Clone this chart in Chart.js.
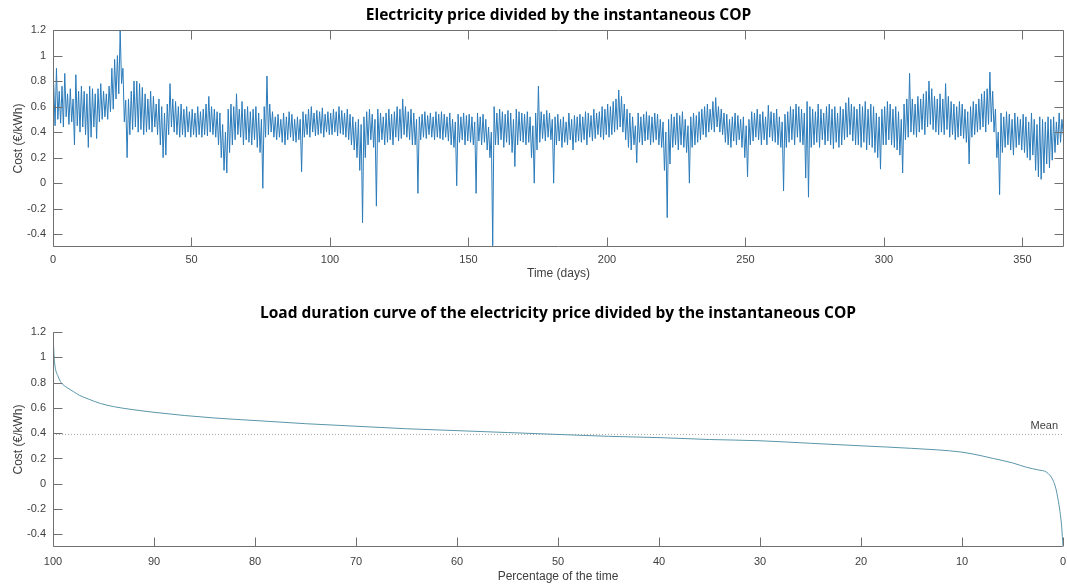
<!DOCTYPE html>
<html>
<head>
<meta charset="utf-8">
<script src="https://cdn.jsdelivr.net/npm/chart.js@4/dist/chart.umd.min.js"></script>
<style>
  html, body { margin: 0; padding: 0; background: #fff; }
  #wrap { position: relative; width: 1067px; height: 585px; }
  #priceBox { position: absolute; left: 0; top: 0; width: 1067px; height: 290px; }
  #durationBox { position: absolute; left: 0; top: 290px; width: 1067px; height: 295px; }
</style>
</head>
<body>
<div id="wrap">
  <div id="priceBox"><canvas id="priceChart" width="1067" height="290"></canvas></div>
  <div id="durationBox"><canvas id="durationChart" width="1067" height="295"></canvas></div>
</div>
<script>
// Daily upper and lower values of the electricity price divided by the COP (€/kWh), days 0–364
const dailyHigh = [
  0.78,0.90,0.72,0.76,0.86,0.70,0.74,0.66,0.85,0.72,
  0.76,0.72,0.70,0.76,0.74,0.70,0.74,0.78,0.72,0.70,
  0.76,0.90,0.97,1.00,1.20,0.90,0.65,0.66,0.72,0.80,
  0.80,0.78,0.75,0.70,0.66,0.72,0.68,0.62,0.66,0.60,
  0.55,0.62,0.78,0.66,0.64,0.60,0.62,0.58,0.60,0.56,
  0.58,0.55,0.60,0.56,0.58,0.62,0.68,0.60,0.58,0.56,
  0.55,0.46,0.40,0.58,0.62,0.60,0.70,0.58,0.64,0.58,
  0.60,0.56,0.58,0.60,0.55,0.50,0.60,0.84,0.62,0.56,
  0.52,0.54,0.50,0.55,0.52,0.56,0.54,0.50,0.52,0.50,
  0.56,0.54,0.58,0.60,0.55,0.57,0.56,0.59,0.54,0.56,
  0.55,0.58,0.56,0.60,0.57,0.55,0.58,0.54,0.52,0.48,
  0.50,0.46,0.52,0.56,0.58,0.54,0.50,0.58,0.55,0.52,
  0.55,0.58,0.54,0.56,0.60,0.58,0.66,0.60,0.56,0.58,
  0.55,0.50,0.52,0.54,0.56,0.53,0.55,0.52,0.56,0.54,
  0.56,0.54,0.52,0.55,0.50,0.48,0.54,0.52,0.55,0.53,
  0.54,0.52,0.48,0.55,0.52,0.54,0.50,0.44,0.40,0.60,
  0.55,0.58,0.56,0.54,0.57,0.55,0.50,0.58,0.56,0.55,
  0.54,0.56,0.52,0.45,0.55,0.76,0.56,0.54,0.57,0.55,
  0.50,0.52,0.54,0.50,0.52,0.48,0.55,0.50,0.53,0.52,
  0.54,0.52,0.56,0.55,0.53,0.58,0.55,0.56,0.60,0.58,
  0.62,0.60,0.64,0.66,0.73,0.68,0.62,0.58,0.55,0.52,
  0.45,0.55,0.52,0.54,0.56,0.53,0.52,0.55,0.54,0.50,
  0.48,0.40,0.50,0.54,0.52,0.55,0.53,0.56,0.50,0.45,
  0.52,0.55,0.53,0.56,0.58,0.60,0.62,0.58,0.64,0.67,
  0.60,0.58,0.55,0.54,0.50,0.52,0.55,0.53,0.50,0.52,
  0.45,0.50,0.56,0.55,0.58,0.54,0.56,0.52,0.61,0.56,
  0.55,0.58,0.52,0.48,0.54,0.56,0.60,0.58,0.62,0.60,
  0.58,0.55,0.64,0.60,0.58,0.56,0.62,0.58,0.55,0.60,
  0.62,0.58,0.60,0.55,0.60,0.58,0.63,0.67,0.62,0.60,
  0.58,0.62,0.60,0.64,0.58,0.62,0.60,0.55,0.52,0.58,
  0.60,0.64,0.62,0.58,0.60,0.56,0.50,0.62,0.66,0.86,
  0.66,0.62,0.68,0.66,0.70,0.72,0.80,0.74,0.68,0.66,
  0.70,0.66,0.78,0.68,0.64,0.62,0.60,0.64,0.62,0.58,
  0.56,0.60,0.64,0.62,0.66,0.70,0.72,0.74,0.87,0.72,
  0.58,0.40,0.55,0.52,0.56,0.54,0.50,0.55,0.52,0.50,
  0.54,0.52,0.48,0.55,0.50,0.46,0.52,0.50,0.48,0.52,
  0.50,0.52,0.48,0.55,0.50
];
const dailyLow = [
  0.45,0.50,0.47,0.44,0.52,0.46,0.48,0.30,0.45,0.40,
  0.44,0.38,0.28,0.36,0.44,0.35,0.48,0.50,0.52,0.50,
  0.56,0.58,0.66,0.70,0.78,0.48,0.20,0.38,0.42,0.44,
  0.40,0.42,0.38,0.40,0.42,0.40,0.44,0.38,0.30,0.20,
  0.22,0.38,0.44,0.40,0.38,0.36,0.38,0.36,0.40,0.36,
  0.38,0.36,0.38,0.36,0.38,0.37,0.40,0.38,0.36,0.30,
  0.20,0.10,0.08,0.24,0.30,0.34,0.38,0.36,0.30,0.34,
  0.32,0.30,0.34,0.28,0.24,-0.04,0.36,0.38,0.40,0.36,
  0.34,0.36,0.32,0.30,0.34,0.36,0.33,0.32,0.34,0.09,
  0.36,0.38,0.36,0.40,0.37,0.38,0.39,0.36,0.40,0.38,
  0.38,0.40,0.37,0.39,0.38,0.36,0.34,0.30,0.26,0.20,
  0.10,-0.31,0.20,0.30,0.34,0.28,-0.18,0.32,0.34,0.30,
  0.32,0.34,0.30,0.36,0.33,0.35,0.38,0.36,0.34,0.30,
  0.30,-0.08,0.34,0.36,0.35,0.38,0.36,0.34,0.36,0.35,
  0.34,0.36,0.33,0.30,0.28,-0.02,0.32,0.34,0.30,0.33,
  0.32,0.30,-0.08,0.33,0.30,0.32,0.26,0.20,-0.49,0.30,
  0.30,0.34,0.28,0.32,0.30,0.24,0.13,0.30,0.33,0.32,
  0.30,0.32,0.20,0.00,0.26,0.32,0.35,0.33,0.36,0.34,
  0.00,0.30,0.33,0.28,0.32,0.30,0.34,0.26,0.32,0.33,
  0.32,0.34,0.30,0.36,0.33,0.35,0.38,0.36,0.34,0.38,
  0.36,0.38,0.40,0.42,0.44,0.40,0.34,0.28,0.26,0.30,
  0.16,0.32,0.30,0.33,0.34,0.30,0.32,0.34,0.30,0.28,
  0.10,-0.27,0.15,0.28,0.30,0.26,0.30,0.28,0.24,0.00,
  0.28,0.30,0.32,0.34,0.38,0.36,0.40,0.42,0.40,0.44,
  0.40,0.38,0.32,0.30,0.28,0.33,0.30,0.34,0.28,0.20,
  0.05,0.30,0.33,0.36,0.34,0.30,0.34,0.30,0.36,0.33,
  0.32,0.30,0.28,-0.06,0.28,0.32,0.34,0.30,0.36,0.32,
  0.30,0.04,-0.11,0.28,0.30,0.32,0.28,0.34,0.30,0.33,
  0.30,0.27,0.32,0.28,0.30,0.34,0.36,0.38,0.33,0.30,
  0.30,0.28,0.32,0.26,0.30,0.28,0.24,0.20,0.11,0.30,
  0.30,0.34,0.30,0.28,0.26,0.22,0.08,0.34,0.36,0.40,
  0.38,0.36,0.40,0.42,0.38,0.44,0.46,0.42,0.40,0.38,
  0.40,0.38,0.42,0.36,0.38,0.34,0.36,0.37,0.35,0.32,
  0.15,0.36,0.38,0.40,0.42,0.44,0.40,0.46,0.48,0.40,
  0.20,-0.09,0.24,0.28,0.30,0.26,0.22,0.28,0.30,0.26,
  0.24,0.20,0.18,0.22,0.10,0.05,0.03,0.08,0.15,0.12,
  0.18,0.24,0.30,0.32,0.38
];

// Load duration curve: share of the time (%) for which the cost is exceeded
const durationPct  = [100, 99.9, 99.8, 99.5, 99.2, 98.6, 98, 97.4, 96.5, 95.3, 94, 92, 90, 87, 84, 80, 75, 70, 65, 60, 55, 50, 45, 40, 35, 30, 25, 20, 15, 10, 8, 6.9, 5, 3.6, 2.5, 1.6, 1.0, 0.7, 0.5, 0.3, 0.13, 0];
const durationCost = [1.2, 1.02, 0.93, 0.85, 0.80, 0.76, 0.73, 0.70, 0.67, 0.635, 0.61, 0.585, 0.565, 0.54, 0.52, 0.50, 0.475, 0.455, 0.435, 0.42, 0.405, 0.39, 0.375, 0.365, 0.35, 0.34, 0.32, 0.30, 0.28, 0.25, 0.22, 0.20, 0.165, 0.13, 0.11, 0.09, 0.03, -0.04, -0.12, -0.22, -0.34, -0.5];
const meanCost = 0.39;

// Tick labels
const dayTicks  = [0, 50, 100, 150, 200, 250, 300, 350];
const pctTicks  = [100, 90, 80, 70, 60, 50, 40, 30, 20, 10, 0];
const costTicks = [-0.4, -0.2, 0, 0.2, 0.4, 0.6, 0.8, 1, 1.2];

const TICK_FONT = { family: 'Liberation Sans, Arial, sans-serif', size: 11 };
const LABEL_FONT = { family: 'Liberation Sans, Arial, sans-serif', size: 12 };
const TITLE_FONT = { family: 'Open Sans, sans-serif', size: 15.5, weight: 'bold' };
const TEXT_GREY = '#404040';
const AXIS_GREY = '#707070';

// One line through the day's upper and lower values, half a day apart
const pricePoints = [];
dailyHigh.forEach((h, d) => {
  pricePoints.push({ x: d + 0.25, y: h });
  pricePoints.push({ x: d + 0.75, y: dailyLow[d] });
});

const fmtCost = v => String(Math.round(v * 10) / 10);
const fixedTicks = list => axis => { axis.ticks = list.map(v => ({ value: v })); };

// Axis lines with inward tick marks; optional closed box with top/right ticks
const axisFrame = {
  id: 'axisFrame',
  afterDraw(chart, args, opts) {
    const { ctx, chartArea: a, scales: { x, y } } = chart;
    const len = opts.tickLength;
    const L = Math.round(a.left) + 0.5, R = Math.round(a.right) - 0.5;
    const T = Math.round(a.top) + 0.5, B = Math.round(a.bottom) - 0.5;
    ctx.save();
    ctx.strokeStyle = opts.color;
    ctx.lineWidth = 1;
    ctx.beginPath();
    ctx.moveTo(L, T); ctx.lineTo(L, B); ctx.lineTo(R, B);
    if (opts.box) { ctx.moveTo(L, T); ctx.lineTo(R, T); ctx.lineTo(R, B); }
    x.ticks.forEach(t => {
      const px = Math.round(x.getPixelForValue(t.value)) + 0.5;
      ctx.moveTo(px, B); ctx.lineTo(px, B - len);
      if (opts.box) { ctx.moveTo(px, T); ctx.lineTo(px, T + len); }
    });
    y.ticks.forEach(t => {
      const py = Math.round(y.getPixelForValue(t.value)) + 0.5;
      ctx.moveTo(L, py); ctx.lineTo(L + len, py);
      if (opts.box) { ctx.moveTo(R, py); ctx.lineTo(R - len, py); }
    });
    ctx.stroke();
    ctx.restore();
  }
};

// Text tag sitting above the mean line at the right end
const meanTag = {
  id: 'meanTag',
  afterDatasetsDraw(chart, args, opts) {
    const { ctx, chartArea: a, scales: { y } } = chart;
    ctx.save();
    ctx.font = '11px Liberation Sans, Arial, sans-serif';
    ctx.fillStyle = TEXT_GREY;
    ctx.textAlign = 'right';
    ctx.textBaseline = 'bottom';
    ctx.fillText(opts.text, a.right - 5, y.getPixelForValue(opts.value) - 3);
    ctx.restore();
  }
};

Chart.defaults.animation = false;
Chart.defaults.color = TEXT_GREY;

// Axes keep fixed sizes so both plot areas line up
const noEdgePadding = s => { s.paddingLeft = 0; s.paddingRight = 0; };

const costAxis = (width) => ({
  type: 'linear',
  min: -0.5,
  max: 1.2,
  afterBuildTicks: fixedTicks(costTicks),
  afterFit: s => { s.width = width; },
  grid: { display: false, drawTicks: false },
  border: { display: false },
  ticks: { font: TICK_FONT, color: TEXT_GREY, padding: 7, callback: fmtCost },
  title: { display: true, text: 'Cost (€/kWh)', font: LABEL_FONT, color: TEXT_GREY, padding: { top: 11, bottom: 0 } }
});

new Chart(document.getElementById('priceChart'), {
  type: 'line',
  data: {
    datasets: [{
      data: pricePoints,
      borderColor: '#2b7bba',
      borderWidth: 1,
      pointRadius: 0,
      tension: 0
    }]
  },
  options: {
    responsive: false,
    events: [],
    layout: { padding: { left: 0, right: 3, top: 0, bottom: 0 } },
    plugins: {
      legend: { display: false },
      tooltip: { enabled: false },
      title: {
        display: true,
        fullSize: false,
        text: 'Electricity price divided by the instantaneous COP',
        font: TITLE_FONT,
        color: '#000',
        padding: { top: 6.7, bottom: 4.7 }
      },
      axisFrame: { box: true, tickLength: 9, color: AXIS_GREY }
    },
    scales: {
      x: {
        type: 'linear',
        min: 0,
        max: 365,
        afterBuildTicks: fixedTicks(dayTicks),
        afterFit: s => { s.height = 43; noEdgePadding(s); },
        grid: { display: false, drawTicks: false },
        border: { display: false },
        ticks: { font: TICK_FONT, color: TEXT_GREY, padding: 6, maxRotation: 0, autoSkip: false },
        title: { display: true, text: 'Time (days)', font: LABEL_FONT, color: TEXT_GREY, padding: { top: 0, bottom: 9 } }
      },
      y: costAxis(53)
    }
  },
  plugins: [axisFrame]
});

new Chart(document.getElementById('durationChart'), {
  type: 'line',
  data: {
    datasets: [
      {
        data: durationPct.map((p, i) => ({ x: p, y: durationCost[i] })),
        borderColor: '#5a96aa',
        borderWidth: 1,
        pointRadius: 0,
        cubicInterpolationMode: 'monotone'
      },
      {
        data: [{ x: 100, y: meanCost }, { x: 0, y: meanCost }],
        borderColor: '#a8a8a8',
        borderWidth: 1,
        borderDash: [1, 2],
        pointRadius: 0
      }
    ]
  },
  options: {
    responsive: false,
    events: [],
    layout: { padding: { left: 0, right: 4, top: 0, bottom: 0 } },
    plugins: {
      legend: { display: false },
      tooltip: { enabled: false },
      title: {
        display: true,
        fullSize: false,
        text: 'Load duration curve of the electricity price divided by the instantaneous COP',
        font: TITLE_FONT,
        color: '#000',
        padding: { top: 14.7, bottom: 8.7 }
      },
      axisFrame: { box: false, tickLength: 9, color: AXIS_GREY },
      meanTag: { text: 'Mean', value: meanCost }
    },
    scales: {
      x: {
        type: 'linear',
        min: 0,
        max: 100,
        reverse: true,
        afterBuildTicks: fixedTicks(pctTicks),
        afterFit: s => { s.height = 38; noEdgePadding(s); },
        grid: { display: false, drawTicks: false },
        border: { display: false },
        ticks: { font: TICK_FONT, color: TEXT_GREY, padding: 8, maxRotation: 0, autoSkip: false },
        title: { display: true, text: 'Percentage of the time', font: LABEL_FONT, color: TEXT_GREY, padding: { top: 0, bottom: 1 } }
      },
      y: costAxis(53)
    }
  },
  plugins: [axisFrame, meanTag]
});
</script>
</body>
</html>
